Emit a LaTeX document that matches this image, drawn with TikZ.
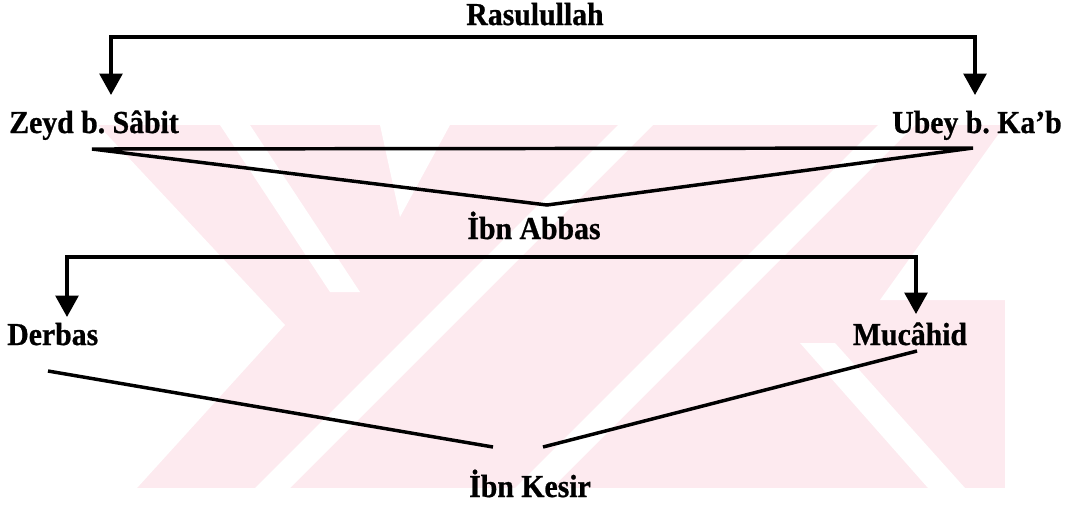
\documentclass[tikz,border=0pt]{standalone}
\usepackage{fontspec}
\setmainfont{Liberation Serif}
\newfontfamily\namefont[FakeStretch=0.93,FakeBold=0.8]{Liberation Serif}
\usepackage{tikz}
\usetikzlibrary{arrows.meta}
\definecolor{wmpink}{RGB}{253,234,239}
\tikzset{
  person/.style={anchor=base, inner sep=0pt, font=\namefont\bfseries\fontsize{24}{28}\selectfont},
  link/.style={line width=2.6pt},
  branch/.style={line width=2.6pt, -{Triangle[length=16pt,width=17pt]}},
}
\frenchspacing
\begin{document}
\begin{tikzpicture}[x=0.75pt,y=0.75pt,yscale=-1,xscale=1]
\useasboundingbox (0,0) rectangle (1067,512);

% Watermark
\fill[wmpink] (95,125) rectangle (1005,488);
\fill[white] (95,125) -- (98,125) -- (285,325) -- (137,488) -- (95,488) -- cycle;
\fill[white] (220,125) -- (250,125) -- (360,292) -- (330,292) -- cycle;
\fill[white] (380,125) -- (450,125) -- (400,217) -- cycle;
\fill[white] (255,488) -- (290,488) -- (653,125) -- (618,125) -- cycle;
\fill[white] (515,488) -- (552,488) -- (915,125) -- (878,125) -- cycle;
\fill[white] (800,343) -- (835,343) -- (965,488) -- (928,488) -- cycle;
\fill[white] (1005,125) -- (1005,300) -- (880,300) -- cycle;

% Text Node
\node[person] (rasul) at (535,25) {Rasulullah};
% Text Node
\node[person, anchor=base west] (zeyd) at (9,133) {Zeyd b. Sâbit};
% Text Node
\node[person, anchor=base east] (ubey) at (1062,133) {Ubey b. Ka’b};
% Text Node
\node[person] (abbas) at (534,239) {İbn Abbas};
% Text Node
\node[person, anchor=base west] (derbas) at (7,345) {Derbas};
% Text Node
\node[person] (mucahid) at (910,345) {Mucâhid};
% Text Node
\node[person] (kesir) at (530,497) {İbn Kesir};

% Line ends
\coordinate (bar1) at (535,37);
\coordinate (zeydin) at (111,95);
\coordinate (ubeyin) at (975,95);
\coordinate (zeydout) at (92,149);
\coordinate (ubeyout) at (973,148);
\coordinate (abbasin) at (547,205);
\coordinate (bar2) at (534,257);
\coordinate (derbasin) at (67,317);
\coordinate (mucahidin) at (916,314);
\coordinate (derbasout) at (48,371);
\coordinate (mucahidout) at (917,351);
\coordinate (kesirl) at (493,447);
\coordinate (kesirr) at (543,447);

%Straight Lines
\draw[branch] (bar1) -| (zeydin);
\draw[branch] (bar1) -| (ubeyin);
%Straight Lines
\draw[link] (zeydout) -- (ubeyout) -- (abbasin) -- cycle;
%Straight Lines
\draw[branch] (bar2) -| (derbasin);
\draw[branch] (bar2) -| (mucahidin);
%Straight Lines
\draw[link] (derbasout) -- (kesirl);
\draw[link] (kesirr) -- (mucahidout);

\end{tikzpicture}
\end{document}
